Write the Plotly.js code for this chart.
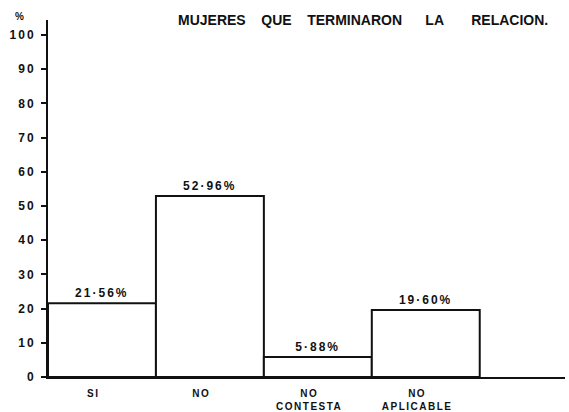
<!DOCTYPE html>
<html>
<head>
<meta charset="utf-8">
<script src="https://cdn.plot.ly/plotly-3.0.1.min.js"></script>
<style>
html,body{margin:0;padding:0;background:#fff;}
#chart{width:569px;height:412px;}
#chart .ytick text{letter-spacing:2px;}
#chart .xtick text{letter-spacing:1.5px;}
#chart .bartext{letter-spacing:2px;}
</style>
</head>
<body>
<div id="chart"></div>
<script>
const categories = ["SI", "NO", "NO<br>CONTESTA", "NO<br>APLICABLE"];
const values = [21.56, 52.96, 5.88, 19.60];
const valueLabels = ["21·56%", "52·96%", "5·88%", "19·60%"];
const yTicks = [0, 10, 20, 30, 40, 50, 60, 70, 80, 90, 100];
const titleWords = ["MUJERES", "QUE", "TERMINARON", "LA", "RELACION."];

const font = "Liberation Sans, Arial, sans-serif";
const idx = categories.map((c, i) => i);
const gaps = [4, 4, 6, 7].map(n => "\u00A0".repeat(n));
const titleText = titleWords.map((w, i) => w + (i < gaps.length ? gaps[i] : "")).join("");

const trace = {
  type: "bar",
  x: idx,
  y: values,
  width: 1,
  marker: { color: "#ffffff", line: { color: "#111", width: 2 } },
  text: valueLabels,
  textposition: "outside",
  textfont: { family: font, size: 12, color: "#111", weight: "bold" },
  cliponaxis: false,
  hoverinfo: "skip"
};

const layout = {
  width: 569, height: 412,
  margin: { l: 48, r: 4, t: 20, b: 35 },
  paper_bgcolor: "#fff", plot_bgcolor: "#fff",
  showlegend: false,
  bargap: 0,
  font: { family: font, color: "#111" },
  xaxis: {
    range: [-0.5, 4.29],
    tickvals: idx.map(i => i - 0.08),
    ticktext: categories,
    ticks: "",
    ticklabelstandoff: 6,
    showgrid: false, zeroline: false,
    showline: true, linecolor: "#111", linewidth: 2,
    tickfont: { family: font, size: 10, color: "#111", weight: "bold" },
    fixedrange: true
  },
  yaxis: {
    range: [0, 104.4],
    tickvals: yTicks,
    ticktext: yTicks.map(String),
    ticks: "outside", ticklen: 5, tickwidth: 2, tickcolor: "#111",
    ticklabelstandoff: 3,
    showgrid: false, zeroline: false,
    showline: true, linecolor: "#111", linewidth: 2,
    tickfont: { family: font, size: 12, color: "#111", weight: "bold" },
    fixedrange: true
  },
  annotations: [
    { text: titleText, xref: "paper", yref: "paper", x: 0.971, y: 1.0, xanchor: "right", yanchor: "bottom",
      yshift: -10, showarrow: false, font: { family: font, size: 14, color: "#111", weight: "bold" } },
    { text: "%", xref: "paper", yref: "paper", x: 0, y: 1.0, xanchor: "right", yanchor: "bottom",
      xshift: -22, yshift: -4, showarrow: false, font: { family: font, size: 10, color: "#111", weight: "bold" } }
  ]
};

Plotly.newPlot("chart", [trace], layout, { displayModeBar: false, staticPlot: true });
</script>
</body>
</html>
